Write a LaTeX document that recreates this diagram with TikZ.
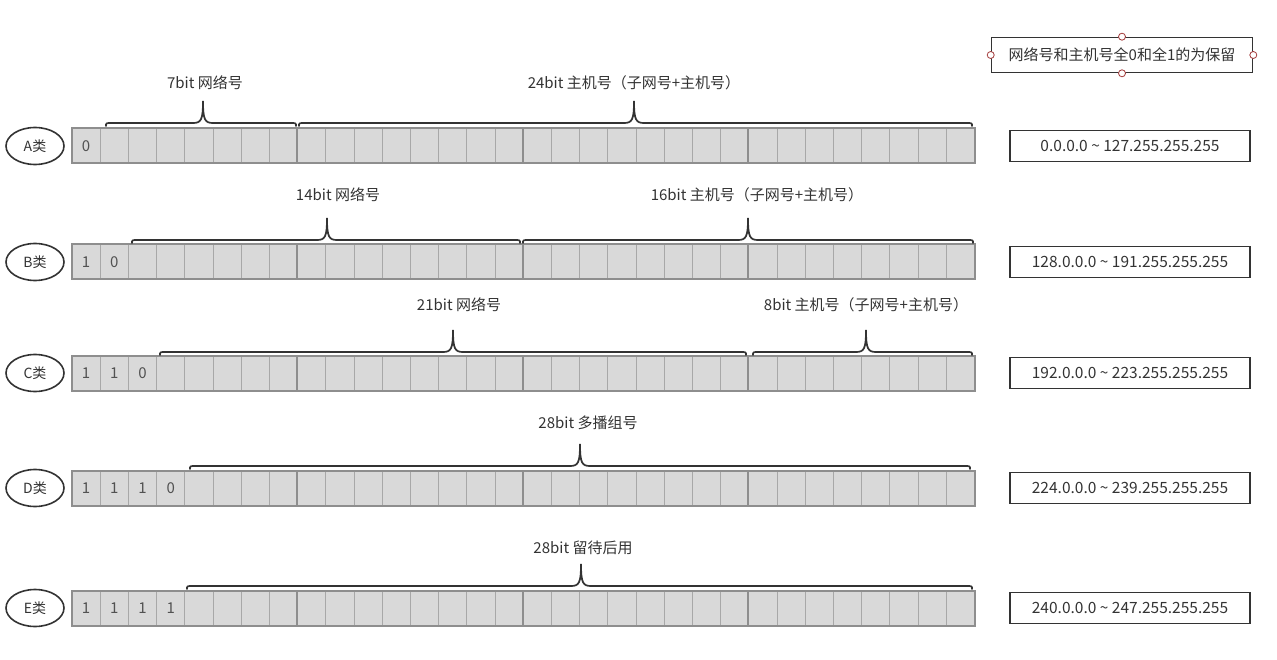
\documentclass[tikz,border=0pt]{standalone}
\usepackage{fontspec}
\setmainfont{Noto Sans CJK SC}
\usetikzlibrary{shapes}
\usetikzlibrary{arrows}
\definecolor{cellfill}{HTML}{D9D9D9}
\definecolor{cellline}{HTML}{A8A8A8}
\definecolor{byteline}{HTML}{8E8E8E}
\definecolor{ink}{HTML}{333333}
\definecolor{handlered}{HTML}{A33A3A}
\tikzset{
	bitcell/.style = {rectangle, draw=cellline, fill=cellfill, line width=1pt,
		minimum width=28.2pt, minimum height=34pt, inner sep=0pt,
		text=ink!85, font=\fontsize{15}{15}\selectfont},% one bit
	classnode/.style = {ellipse, draw=ink, line width=1.6pt, minimum width=58pt,
		minimum height=37pt, inner sep=0pt, text=ink,
		font=\fontsize{14}{14}\selectfont},% A类 ... E类
	rangebox/.style = {rectangle, draw=ink, line width=1.6pt, minimum width=240pt,
		minimum height=31pt, text=ink, font=\fontsize{15.5}{15.5}\selectfont},% address range
	bracelbl/.style = {text=ink, font=\fontsize{15}{15}\selectfont},% brace text
	handle/.style = {circle, draw=handlered, fill=white, line width=0.8pt,
		minimum size=7pt, inner sep=0pt}% selection handle
}
% \ipbrace{from x}{to x}{tip x}{base y}
\newcommand{\ipbrace}[4]{%
	\draw[ink, line width=1.7pt, line cap=round]
		(#1,#4) .. controls (#1,#4-3) .. (#1+6,#4-3)
		-- (#3-10,#4-3) .. controls (#3-2,#4-3) and (#3,#4-6) .. (#3,#4-25)
		.. controls (#3,#4-6) and (#3+2,#4-3) .. (#3+10,#4-3)
		-- (#2-6,#4-3) .. controls (#2,#4-3) .. (#2,#4);}

\begin{document}
\begin{tikzpicture}[x=1pt, y=-1pt]
	\useasboundingbox (0,0) rectangle (1277,660);
	% bit rows
	\foreach \cls/\yy in {A/146, B/262, C/373, D/488, E/608}{
		\foreach \i in {0,...,31}
			\node[bitcell] (\cls\i) at (86.1+28.2*\i,\yy) {};
		\foreach \b in {8,16,24}
			\draw[byteline, line width=2pt] (\cls\b.north west) -- (\cls\b.south west);
		\draw[byteline, line width=2pt] (\cls0.north west) rectangle (\cls31.south east);
		\node[classnode] (c\cls) at (35,\yy) {\cls 类};
	}
	% leading bits
	\foreach \cls/\i/\d in {A/0/0, B/0/1, B/1/0, C/0/1, C/1/1, C/2/0,
		D/0/1, D/1/1, D/2/1, D/3/0, E/0/1, E/1/1, E/2/1, E/3/1}
		\node[text=ink!85, font=\fontsize{15}{15}\selectfont] at (\cls\i) {\d};
	% braces
	\ipbrace{106}{296}{203}{126}
	\ipbrace{299}{972}{634}{126}
	\ipbrace{132}{520}{327}{243}
	\ipbrace{523}{973}{748}{243}
	\ipbrace{160}{746}{453}{355}
	\ipbrace{753}{972}{866}{355}
	\ipbrace{190}{970}{580}{469}
	\ipbrace{187}{972}{581}{589}
	\node[bracelbl] (lA1) at (205,83) {7bit 网络号};
	\node[bracelbl] (lA2) at (634,83) {24bit 主机号（子网号+主机号）};
	\node[bracelbl] (lB1) at (338,195) {14bit 网络号};
	\node[bracelbl] (lB2) at (757,195) {16bit 主机号（子网号+主机号）};
	\node[bracelbl] (lC1) at (459,305) {21bit 网络号};
	\node[bracelbl] (lC2) at (866,305) {8bit 主机号（子网号+主机号）};
	\node[bracelbl] (lD) at (588,423) {28bit 多播组号};
	\node[bracelbl] (lE) at (583,548) {28bit 留待后用};
	% address ranges
	\node[rangebox] (rA) at (1130,146) {0.0.0.0 \textasciitilde{} 127.255.255.255};
	\node[rangebox] (rB) at (1130,262) {128.0.0.0 \textasciitilde{} 191.255.255.255};
	\node[rangebox] (rC) at (1130,373) {192.0.0.0 \textasciitilde{} 223.255.255.255};
	\node[rangebox] (rD) at (1130,488) {224.0.0.0 \textasciitilde{} 239.255.255.255};
	\node[rangebox] (rE) at (1130,608) {240.0.0.0 \textasciitilde{} 247.255.255.255};
	% note
	\node[rangebox, minimum width=261pt, minimum height=35pt,
		font=\fontsize{15}{15}\selectfont] (note) at (1122,55)
		{网络号和主机号全0和全1的为保留};
	\foreach \side in {north, south, east, west}
		\node[handle] at (note.\side) {};
\end{tikzpicture}
\end{document}
